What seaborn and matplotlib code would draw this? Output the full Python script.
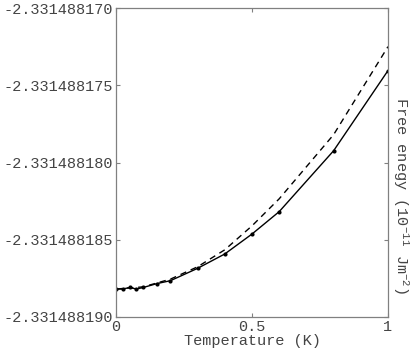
import pandas as pd
import seaborn as sns
import matplotlib
matplotlib.use("Agg")
import matplotlib.pyplot as plt
from matplotlib.ticker import FormatStrFormatter

# solid curve (with markers)
temp_solid = [0, 0.025, 0.05, 0.075, 0.1, 0.15, 0.2, 0.3, 0.4, 0.5, 0.6, 0.8, 1.0]
energy_solid = [-2.33148818819, -2.33148818819, -2.33148818809, -2.33148818819,
                -2.33148818809, -2.33148818784, -2.33148818765, -2.33148818685,
                -2.33148818592, -2.33148818463, -2.33148818318, -2.33148817924,
                -2.33148817405]

# dashed curve
temp_dashed = [0, 0.1, 0.2, 0.3, 0.4, 0.5, 0.6, 0.8, 1.0]
energy_dashed = [-2.33148818819, -2.33148818805, -2.33148818755, -2.33148818675,
                 -2.33148818565, -2.33148818410, -2.33148818235, -2.33148817820,
                 -2.33148817250]

xticks = [0, 0.5, 1]
yticks = [-2.331488190, -2.331488185, -2.331488180, -2.331488175, -2.331488170]

df_solid = pd.DataFrame({"T": temp_solid, "F": energy_solid})
df_dashed = pd.DataFrame({"T": temp_dashed, "F": energy_dashed})

sns.set_style("ticks")
plt.rcParams['font.family'] = ['Liberation Mono', 'DejaVu Sans Mono']
plt.rcParams['mathtext.default'] = 'regular'

fig = plt.figure(figsize=(4.16, 3.49), dpi=100)
ax = fig.add_axes([116/416, 1-317/349, 272/416, 309/349])

sns.lineplot(data=df_dashed, x="T", y="F", ax=ax, color="black", lw=1.0,
             linestyle=(0, (4.5, 3.5)))
sns.lineplot(data=df_solid, x="T", y="F", ax=ax, color="black", lw=1.0,
             marker="o", markersize=3, markeredgewidth=0)

ax.set_xlim(0, 1)
ax.set_ylim(-2.331488190, -2.331488170)
ax.set_xticks(xticks)
ax.set_xticklabels(["0", "0.5", "1"])
ax.set_yticks(yticks)
ax.yaxis.set_major_formatter(FormatStrFormatter('%.9f'))

ax.tick_params(direction='in', length=3, width=0.8, color='#808080',
               labelsize=11, labelcolor='#444444', top=True, right=True, pad=2)
for s in ax.spines.values():
    s.set_color('#808080')
    s.set_linewidth(0.9)

ax.set_xlabel("Temperature (K)", fontsize=11, color='#444444', labelpad=0)
ax.set_ylabel("")
fig.text(401/416, 1-196/349, "Free enegy (10$^{-11}$ Jm$^{-2}$)", rotation=270,
         ha='center', va='center', fontsize=11, color='#444444')

fig.savefig("out.png", dpi=100)
